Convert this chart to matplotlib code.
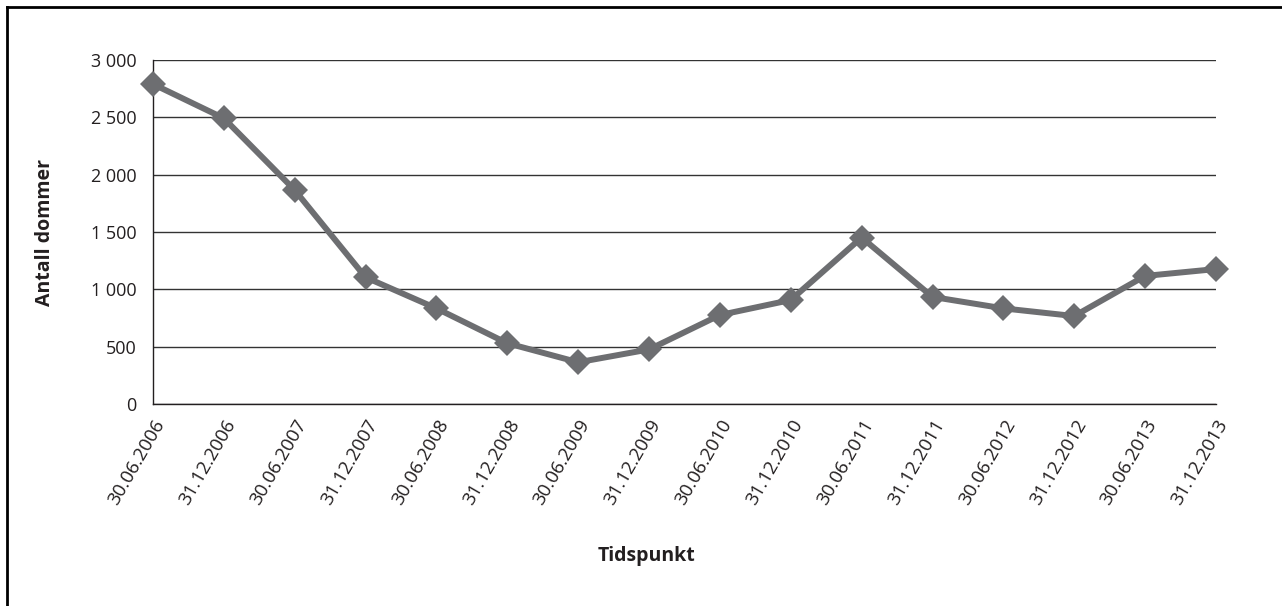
import matplotlib.pyplot as plt
from matplotlib.lines import Line2D
from matplotlib.ticker import FuncFormatter

# Data
dates = ['30.06.2006', '31.12.2006', '30.06.2007', '31.12.2007', '30.06.2008',
         '31.12.2008', '30.06.2009', '31.12.2009', '30.06.2010', '31.12.2010',
         '30.06.2011', '31.12.2011', '30.06.2012', '31.12.2012', '30.06.2013',
         '31.12.2013']
dommer = [2790, 2492, 1866, 1105, 834, 530, 364, 476, 776, 907,
          1452, 934, 834, 767, 1117, 1177]
y_ticks = [0, 500, 1000, 1500, 2000, 2500, 3000]

plt.rcParams['font.family'] = ['Open Sans', 'DejaVu Sans']
text_color = '#231f20'
line_color = '#6d6e71'

fig = plt.figure(figsize=(12.82, 6.06), dpi=100)
ax = fig.add_axes([0.1193, 0.3333, 0.8292, 0.5677])

x = list(range(len(dates)))
ax.plot(x, dommer, color=line_color, linewidth=4.3, marker='D',
        markersize=13, markeredgewidth=0, zorder=3, clip_on=False)

ax.set_xlim(0, len(dates) - 1)
ax.set_ylim(0, 3000)
ax.set_yticks(y_ticks)
ax.yaxis.set_major_formatter(FuncFormatter(lambda v, p: f'{int(v):,}'.replace(',', ' ')))
ax.set_xticks(x)
ax.set_xticklabels(dates, rotation=60, ha='right', va='top', rotation_mode='anchor')

ax.grid(axis='y', color='#333333', linewidth=1.0, zorder=1)
ax.set_axisbelow(True)
ax.tick_params(axis='both', length=0, labelsize=13, colors=text_color)
ax.tick_params(axis='x', labelsize=13.5, pad=9)
ax.tick_params(axis='y', pad=12)

for s in ['top', 'right']:
    ax.spines[s].set_visible(False)
for s in ['left', 'bottom']:
    ax.spines[s].set_color('#231f20')
    ax.spines[s].set_linewidth(1.0)

fig.text(0.035, 0.6167, 'Antall dommer', rotation=90, ha='center', va='center',
         fontsize=14, fontweight='bold', color=text_color)
fig.text(0.504, 0.083, 'Tidspunkt', ha='center', va='center',
         fontsize=14, fontweight='bold', color=text_color)

# frame: only the left and top edges fall inside the picture
fig.add_artist(Line2D([0.0055, 0.0055], [0, 0.9885], transform=fig.transFigure,
                      color='black', linewidth=2))
fig.add_artist(Line2D([0.0055, 1], [0.9885, 0.9885], transform=fig.transFigure,
                      color='black', linewidth=2))

fig.savefig('out.png', dpi=100)
